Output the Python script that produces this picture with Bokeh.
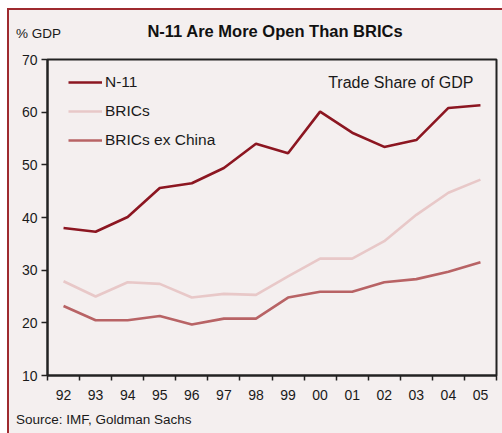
from bokeh.plotting import figure
from bokeh.models import FixedTicker, Legend, LegendItem, Label, Range1d, Div
from bokeh.layouts import column
from bokeh.embed import file_html
from bokeh.resources import INLINE

years = ["92", "93", "94", "95", "96", "97", "98", "99", "00", "01", "02", "03", "04", "05"]
n11 = [38.0, 37.3, 40.1, 45.6, 46.5, 49.4, 54.0, 52.2, 60.1, 56.1, 53.4, 54.7, 60.8, 61.3]
brics = [27.9, 25.0, 27.7, 27.4, 24.8, 25.5, 25.3, 28.8, 32.2, 32.2, 35.5, 40.5, 44.7, 47.2]
brics_ex_china = [23.2, 20.5, 20.5, 21.3, 19.7, 20.8, 20.8, 24.8, 25.9, 25.9, 27.7, 28.3, 29.7, 31.5]
y_ticks = [10, 20, 30, 40, 50, 60, 70]

FONT = "Liberation Sans"
BG = "#F4EFEF"
W = 493

xc = [i + 0.5 for i in range(len(years))]

header = Div(width=W, height=30, margin=0, text=(
    f'<div style="position:relative;width:{W}px;height:30px;font-family:\'{FONT}\';color:#1a1a1a;">'
    '<span style="position:absolute;left:7px;top:16px;font-size:13.5px;line-height:16px;">% GDP</span>'
    '<span style="position:absolute;left:0px;width:532px;top:12px;text-align:center;'
    'font-size:16.5px;line-height:18px;font-weight:bold;color:#111;">N-11 Are More Open Than BRICs</span>'
    '</div>'))

footer = Div(width=W, height=28, margin=0, text=(
    f'<div style="position:relative;width:{W}px;height:28px;font-family:\'{FONT}\';color:#1a1a1a;">'
    '<span style="position:absolute;left:7px;top:7px;font-size:13.5px;line-height:16px;">'
    'Source: IMF, Goldman Sachs</span></div>'))

p = figure(width=W, height=365, output_backend="svg", toolbar_location=None,
           x_range=Range1d(0, len(years)), y_range=Range1d(10, 70),
           min_border_left=38, min_border_right=6, min_border_top=19, min_border_bottom=30)
p.background_fill_color = BG
p.border_fill_color = BG
p.outline_line_color = "#222222"
p.outline_line_width = 2
p.xgrid.grid_line_color = None
p.ygrid.grid_line_color = None

r1 = p.line(xc, n11, line_color="#8C1621", line_width=2.6)
r2 = p.line(xc, brics, line_color="#E8C8C8", line_width=2.6)
r3 = p.line(xc, brics_ex_china, line_color="#B86365", line_width=2.6)

p.xaxis.ticker = FixedTicker(ticks=xc, minor_ticks=list(range(len(years) + 1)))
p.xaxis.major_label_overrides = {x: y for x, y in zip(xc, years)}
p.xaxis.major_tick_out = 0
p.xaxis.major_tick_in = 0
p.xaxis.minor_tick_out = 5
p.xaxis.minor_tick_in = 0
p.xaxis.minor_tick_line_color = "#222222"
p.xaxis.minor_tick_line_width = 1.5
p.xaxis.major_label_standoff = 9
p.yaxis.ticker = FixedTicker(ticks=y_ticks, minor_ticks=[])
p.yaxis.major_tick_out = 6
p.yaxis.major_tick_in = 0
p.yaxis.major_label_standoff = 4
for ax in (p.xaxis[0], p.yaxis[0]):
    ax.axis_line_color = "#222222"
    ax.axis_line_width = 2
    ax.major_tick_line_color = "#222222"
    ax.major_tick_line_width = 1.5
    ax.major_label_text_font = FONT
    ax.major_label_text_font_size = "14px"
    ax.major_label_text_color = "#1a1a1a"

legend = Legend(items=[LegendItem(label="N-11", renderers=[r1]),
                       LegendItem(label="BRICs", renderers=[r2]),
                       LegendItem(label="BRICs ex China", renderers=[r3])],
                location=(21, 226), background_fill_alpha=0, border_line_color=None,
                label_text_font=FONT, label_text_font_size="15.5px", label_text_color="#1a1a1a",
                glyph_width=34, glyph_height=16, label_height=16, spacing=11,
                padding=0, margin=0, label_standoff=3)
p.add_layout(legend)

p.add_layout(Label(x=13.28, y=65.6, text="Trade Share of GDP", text_align="right",
                   text_baseline="middle", text_font=FONT, text_font_size="16px",
                   text_color="#1a1a1a"))

layout = column(header, p, footer, spacing=0, margin=(8, 0, 0, 7),
                styles={"border-left": "2px solid #9E2A2F", "border-top": "2px solid #9E2A2F",
                        "background-color": BG})

open("out.html", "w").write(file_html(layout, INLINE))
